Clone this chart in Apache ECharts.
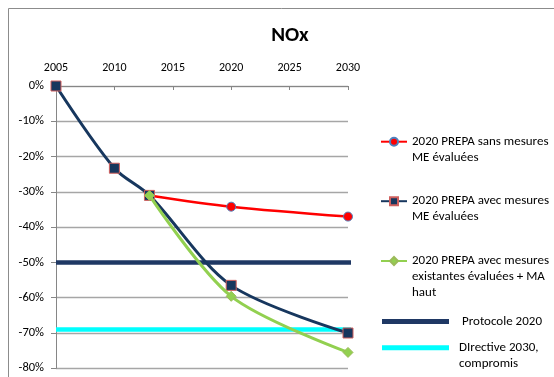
<!DOCTYPE html>
<html>
<head>
<meta charset="utf-8">
<script src="https://cdn.jsdelivr.net/npm/echarts@6/dist/echarts.min.js"></script>
<style>
  html, body { margin: 0; padding: 0; background: #fff; }
  #chart { width: 554px; height: 377px; }
</style>
</head>
<body>
<div id="chart"></div>
<script>
// Emissions de NOx, écart par rapport à 2005 (en %)
const xTicks = [2005, 2010, 2015, 2020, 2025, 2030];
const yTicks = [0, -10, -20, -30, -40, -50, -60, -70, -80];

const sansYears = [2013, 2020, 2030];
const sansValues = [-31, -34.2, -37];

const avecYears = [2005, 2010, 2013, 2020, 2030];
const avecValues = [0, -23.3, -31, -56.5, -70];

const mahautYears = [2013, 2020, 2030];
const mahautValues = [-31, -59.6, -75.5];

const protocoleYears = [2005, 2031.1];
const protocoleValues = [-50, -50];

const directiveYears = [2005, 2030.9];
const directiveValues = [-69, -69];

const names = [
  '2020 PREPA sans mesures ME évaluées',
  '2020 PREPA avec mesures ME évaluées',
  '2020 PREPA avec mesures existantes évaluées + MA haut',
  'Protocole 2020',
  'DIrective 2030, compromis'
];
const wrapped = {
  [names[0]]: ['2020 PREPA sans mesures', 'ME évaluées'],
  [names[1]]: ['2020 PREPA avec mesures', 'ME évaluées'],
  [names[2]]: ['2020 PREPA avec mesures', 'existantes évaluées + MA', 'haut'],
  [names[3]]: ['Protocole 2020'],
  [names[4]]: ['DIrective 2030,', 'compromis']
};

// legend text is centred on its icon: pad with blank lines above so the
// first line sits level with the icon
function legendText(n) {
  const lines = wrapped[n];
  const blanks = new Array(lines.length - 1).fill(' ');
  return blanks.concat(lines).join('\n');
}

const pairs = (xs, ys) => xs.map((x, i) => [x, ys[i]]);

const FONT = 'Carlito, Calibri, Lato, sans-serif';
const LH = 15.8;
const LEGEND_FS = 13;

function legendItem(name, left, top, opts) {
  return Object.assign({
    data: [name],
    left: left,
    top: top,
    padding: 0,
    itemWidth: 26,
    itemHeight: 10,
    selectedMode: false,
    formatter: legendText,
    textStyle: {
      fontFamily: FONT,
      fontSize: LEGEND_FS,
      color: '#000',
      lineHeight: LH
    }
  }, opts || {});
}

const chart = echarts.init(document.getElementById('chart'), null, { renderer: 'canvas' });

chart.setOption({
  animation: false,
  backgroundColor: '#fff',
  textStyle: { fontFamily: FONT },
  title: {
    text: 'NOx',
    left: 285,
    top: 20,
    textAlign: 'center',
    textStyle: { fontFamily: FONT, fontSize: 21, fontWeight: 'bold', color: '#000' }
  },
  graphic: [{
    type: 'rect',
    z: -10,
    shape: { x: 8.5, y: 8.5, width: 700, height: 500 },
    style: { fill: null, stroke: '#8c8c8c', lineWidth: 1 }
  }],
  grid: { left: 56, right: 206, top: 86, bottom: 8.7 },
  xAxis: {
    type: 'value',
    position: 'top',
    min: xTicks[0],
    max: xTicks[xTicks.length - 1],
    interval: 5,
    axisLine: { lineStyle: { color: '#868686', width: 1 } },
    axisTick: { inside: true, length: 4, lineStyle: { color: '#868686' } },
    axisLabel: { color: '#000', fontFamily: FONT, fontSize: 12, margin: 12, formatter: v => String(v) },
    splitLine: { show: false }
  },
  yAxis: {
    type: 'value',
    min: yTicks[yTicks.length - 1],
    max: yTicks[0],
    interval: 10,
    axisLine: { show: true, lineStyle: { color: '#868686', width: 1 } },
    axisTick: { show: true, length: 5, lineStyle: { color: '#868686' } },
    axisLabel: { color: '#000', fontFamily: FONT, fontSize: 12.5, margin: 12, formatter: '{value}%' },
    splitLine: { lineStyle: { color: '#a6a6a6', width: 1.3 } }
  },
  legend: [
    legendItem(names[0], 380, 118),
    legendItem(names[1], 380, 177.5),
    legendItem(names[2], 380, 221.5),
    legendItem(names[3], 382, 313.5, {
      icon: 'rect', itemWidth: 67, itemHeight: 5,
      textStyle: { fontFamily: FONT, fontSize: LEGEND_FS, color: '#000', lineHeight: LH, padding: [0, 0, 0, 8] }
    }),
    legendItem(names[4], 382, 324, {
      icon: 'rect', itemWidth: 67, itemHeight: 5,
      textStyle: { fontFamily: FONT, fontSize: LEGEND_FS, color: '#000', lineHeight: LH, padding: [0, 0, 0, 5] }
    })
  ],
  series: [
    {
      name: names[3],
      type: 'line',
      data: pairs(protocoleYears, protocoleValues),
      clip: false,
      symbol: 'none',
      z: 1,
      lineStyle: { color: '#1f3864', width: 4.5 },
      itemStyle: { color: '#1f3864' }
    },
    {
      name: names[4],
      type: 'line',
      data: pairs(directiveYears, directiveValues),
      clip: false,
      symbol: 'none',
      z: 1,
      lineStyle: { color: '#00ffff', width: 4.5 },
      itemStyle: { color: '#00ffff' }
    },
    {
      name: names[0],
      type: 'line',
      data: pairs(sansYears, sansValues),
      smooth: 0.3,
      symbol: 'circle',
      symbolSize: 9,
      z: 2,
      lineStyle: { color: '#ff0000', width: 2.5 },
      itemStyle: { color: '#ff0000', borderColor: '#4f81bd', borderWidth: 1 }
    },
    {
      name: names[1],
      type: 'line',
      data: pairs(avecYears, avecValues),
      smooth: 0.3,
      symbol: 'rect',
      symbolSize: 10,
      z: 3,
      lineStyle: { color: '#17375e', width: 3 },
      itemStyle: { color: '#17375e', borderColor: '#d0605e', borderWidth: 1 }
    },
    {
      name: names[2],
      type: 'line',
      data: pairs(mahautYears, mahautValues),
      smooth: 0.3,
      symbol: 'diamond',
      symbolSize: 10,
      z: 4,
      lineStyle: { color: '#92d050', width: 3 },
      itemStyle: { color: '#92d050', borderColor: '#9bbb59', borderWidth: 1 }
    }
  ]
});
</script>
</body>
</html>
